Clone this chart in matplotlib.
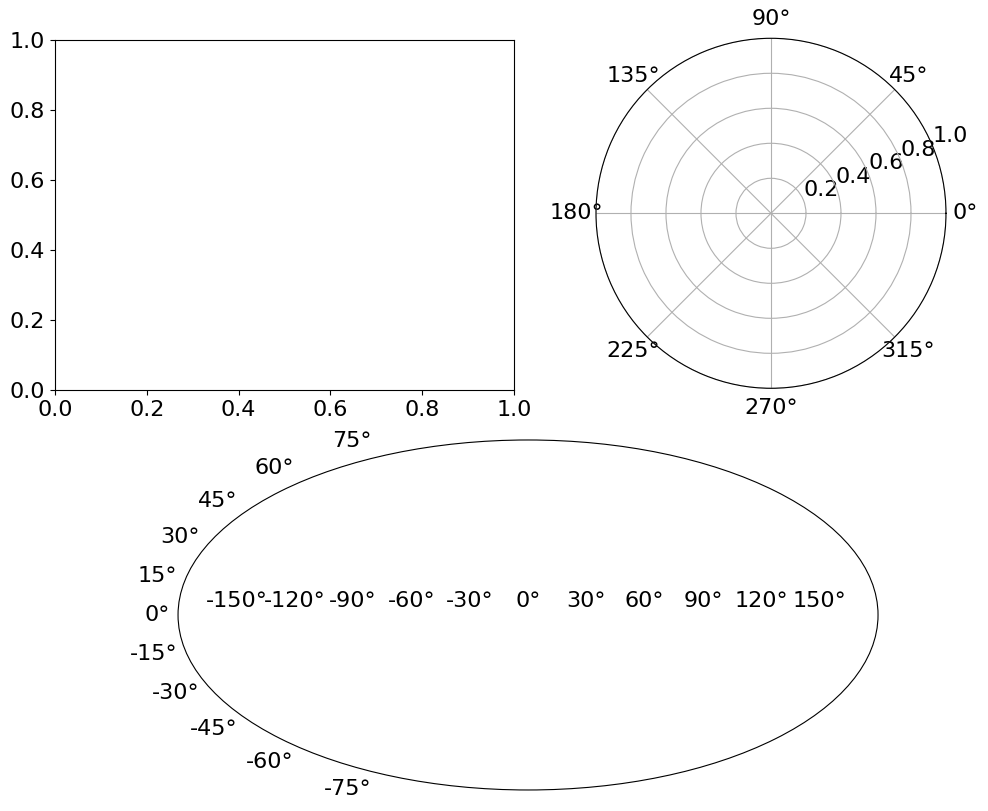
import matplotlib
matplotlib.use("Agg")
import matplotlib.pyplot as plt

plt.rcParams['font.size'] = 16

fig = plt.figure(figsize=(9.88, 8.11), dpi=100)
ax1 = fig.add_axes([0.0557, 0.519, 0.4646, 0.4316])
ax2 = fig.add_axes([0.6032, 0.5212, 0.3543, 0.4316], projection='polar')
ax3 = fig.add_axes([0.1802, 0.0259, 0.7085, 0.4316], projection='mollweide')

fig.savefig("out.png")
